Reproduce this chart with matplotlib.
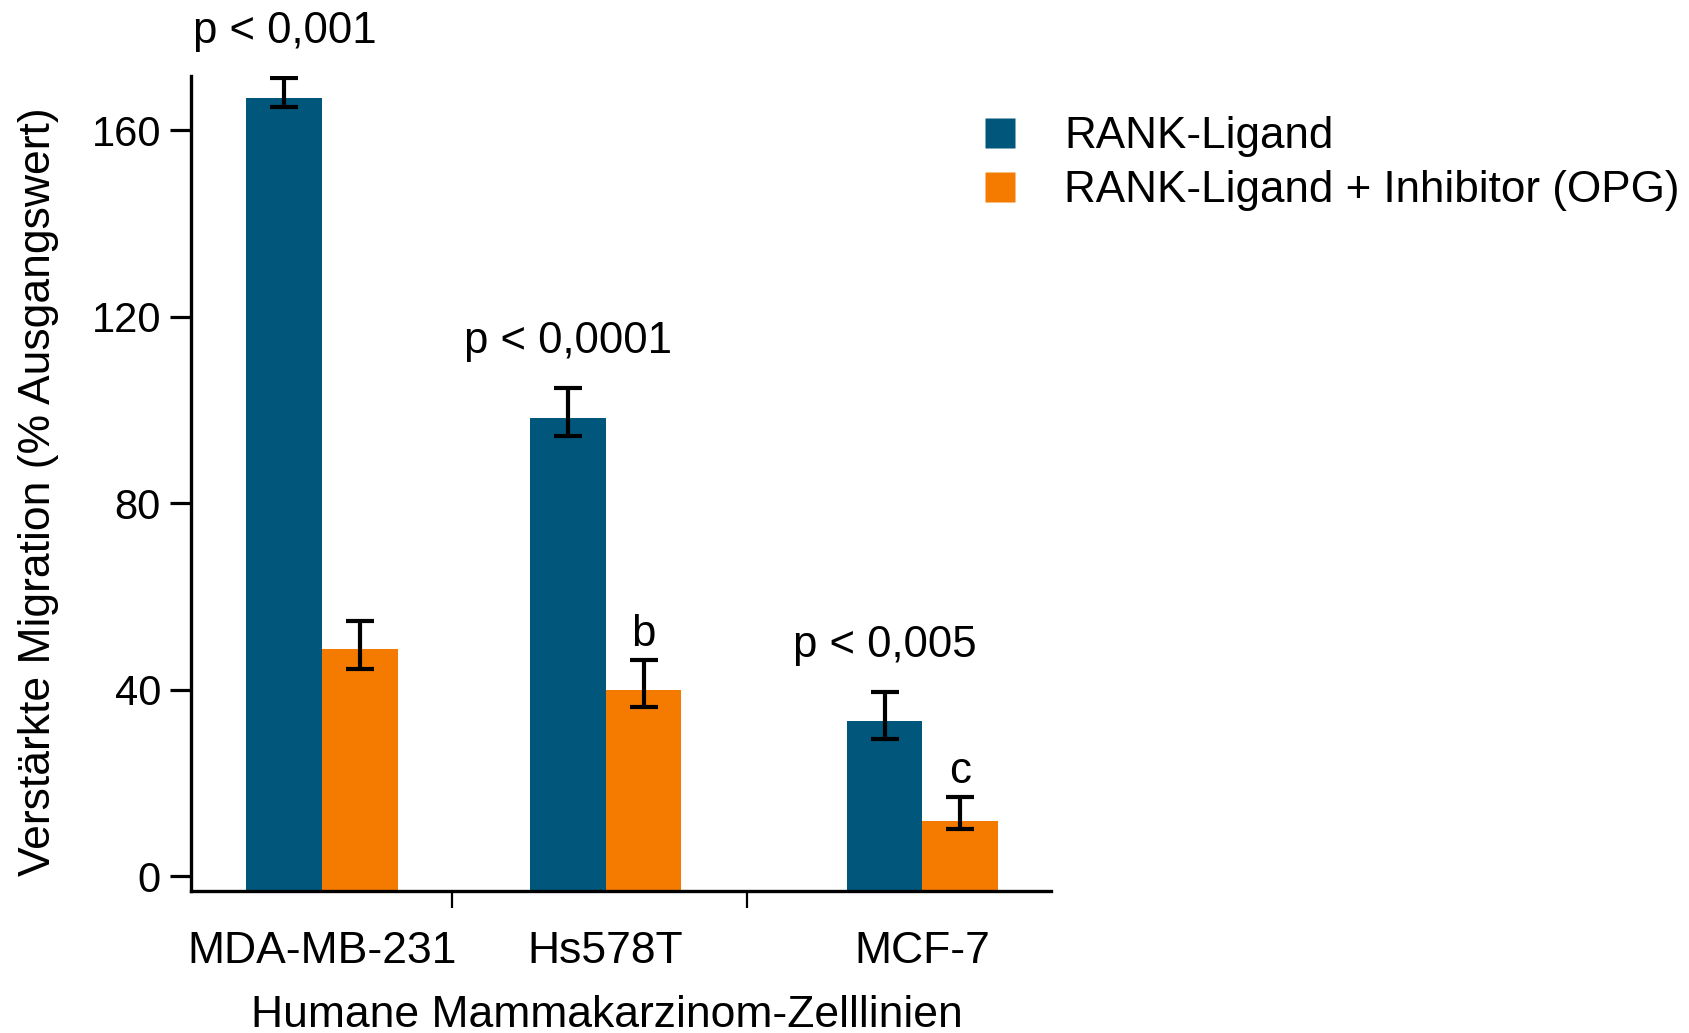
import numpy as np
import matplotlib
matplotlib.use("Agg")
import matplotlib.pyplot as plt
from matplotlib.lines import Line2D

plt.rcParams['font.family'] = ['Liberation Sans', 'DejaVu Sans']

# --- data -------------------------------------------------------------
cell_lines = ["MDA-MB-231", "Hs578T", "MCF-7"]
series_names = ["RANK-Ligand", "RANK-Ligand + Inhibitor (OPG)"]

rankl = [166.8, 98.2, 33.2]
rankl_err_lo = [1.8, 3.8, 3.9]
rankl_err_hi = [4.3, 6.4, 6.2]

opg = [48.6, 40.0, 11.9]
opg_err_lo = [4.1, 3.8, 1.9]
opg_err_hi = [6.2, 6.3, 5.1]

p_labels = ["p < 0,001", "p < 0,0001", "p < 0,005"]
letter_labels = ["", "b", "c"]

y_ticks = [0, 40, 80, 120, 160]

# --- layout -----------------------------------------------------------
group_pos = np.array([0.0, 1.0, 2.118])
sep_pos = [0.456, 1.498]
bar_w = 0.2675
y_min, y_max = -3.2, 171.5

blue = "#00577B"
orange = "#F57B00"

fig = plt.figure(figsize=(16.9, 10.33), dpi=100)
ax = fig.add_axes([0.1129, 0.1375, 0.5089, 0.7885])

x_blue = group_pos - bar_w / 2
x_orange = group_pos + bar_w / 2

rankl_a = np.array(rankl)
opg_a = np.array(opg)

# bars run down to the bottom spine
ax.bar(x_blue, rankl_a - y_min, bottom=y_min, width=bar_w, color=blue,
       zorder=2)
ax.bar(x_orange, opg_a - y_min, bottom=y_min, width=bar_w, color=orange,
       zorder=2)

err_kw = dict(fmt="none", ecolor="black", elinewidth=3.0, capsize=10.4,
              capthick=3.0, zorder=3)
ax.errorbar(x_blue, rankl_a, yerr=[rankl_err_lo, rankl_err_hi], **err_kw)
ax.errorbar(x_orange, opg_a, yerr=[opg_err_lo, opg_err_hi], **err_kw)

# significance annotations
for xb, v, e, txt in zip(x_blue, rankl_a, rankl_err_hi, p_labels):
    ax.annotate(txt, (xb, v + e), xytext=(0, 25.5), textcoords="offset points",
                ha="center", va="baseline", fontsize=31.5, annotation_clip=False)
for xo, v, e, txt in zip(x_orange, opg_a, opg_err_hi, letter_labels):
    if txt:
        ax.annotate(txt, (xo, v + e), xytext=(0, 10), textcoords="offset points",
                    ha="center", va="baseline", fontsize=31.5)

ax.set_xlim(-0.464, 2.571)
ax.set_ylim(y_min, y_max)

ax.set_yticks(y_ticks)
ax.set_yticklabels([str(t) for t in y_ticks])
ax.tick_params(axis="y", direction="out", length=15, width=2.3, pad=6.5,
               labelsize=30)

ax.set_xticks(group_pos)
ax.set_xticklabels(cell_lines)
ax.tick_params(axis="x", which="major", length=0, pad=29, labelsize=32)
ax.set_xticks(sep_pos, minor=True)
ax.tick_params(axis="x", which="minor", direction="out", length=12.5,
               width=1.6)

for side in ("top", "right"):
    ax.spines[side].set_visible(False)
for side in ("left", "bottom"):
    ax.spines[side].set_linewidth(2.4)

ax.set_ylabel("Verstärkte Migration (% Ausgangswert)", fontsize=32)
ax.yaxis.set_label_coords(-0.153, 0.49)
ax.set_xlabel("Humane Mammakarzinom-Zelllinien", fontsize=32)
ax.xaxis.set_label_coords(0.4837, -0.128)

handles = [Line2D([], [], linestyle="none", marker="s", markersize=20.9,
                  markerfacecolor=c, markeredgecolor="none")
           for c in (blue, orange)]
fig.legend(handles, series_names, loc="upper left",
           bbox_to_anchor=(978 / 1690, 1 - 116 / 1033), frameon=False,
           fontsize=31.7, handlelength=0.98, handletextpad=0.98,
           labelspacing=0.3, borderpad=0, borderaxespad=0)

fig.savefig("out.png", dpi=100)
